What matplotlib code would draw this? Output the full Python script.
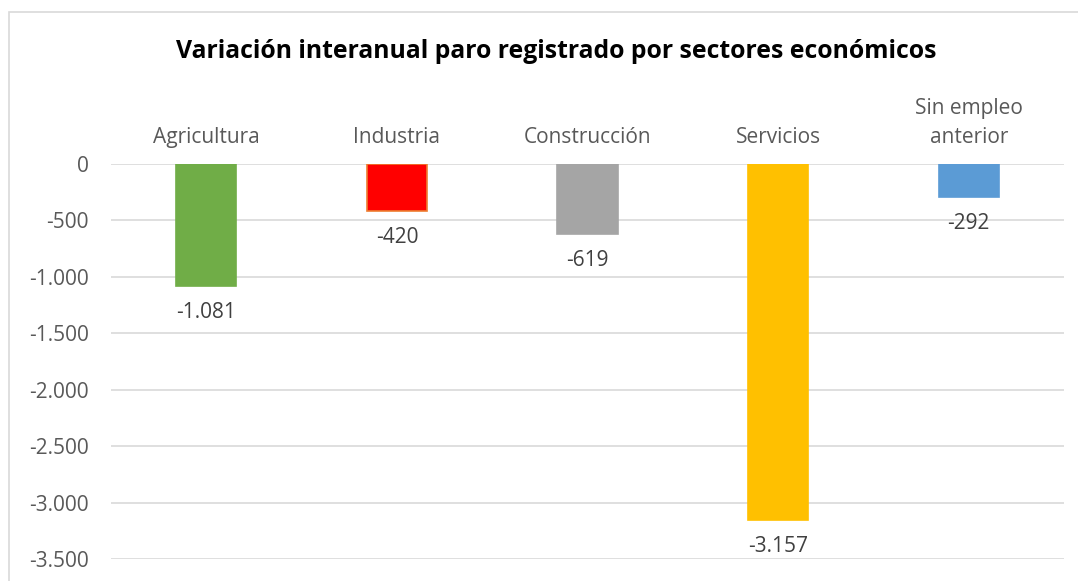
import matplotlib.pyplot as plt
from matplotlib.patches import Rectangle
from matplotlib.ticker import FuncFormatter

# Data
sectores = ['Agricultura', 'Industria', 'Construcción', 'Servicios', 'Sin empleo\nanterior']
variacion = [-1081, -420, -619, -3157, -292]
colores = ['#70AD47', '#FF0000', '#A5A5A5', '#FFC000', '#5B9BD5']
bordes = ['#70AD47', '#ED7D31', '#A5A5A5', '#FFC000', '#5B9BD5']
y_ticks = [0, -500, -1000, -1500, -2000, -2500, -3000, -3500]


def miles(v, pos=None):
    # Spanish style thousands separator
    return '{:,.0f}'.format(v).replace(',', '.')


def plot():
    plt.rcParams['font.family'] = ['Open Sans', 'DejaVu Sans']
    fig = plt.figure(figsize=(10.78, 5.81), dpi=100)

    # outer chart border (right and bottom edges fall outside the image)
    fig.patches.append(Rectangle((9 / 1078, 0 - 0.01), 1.0, 1 - 12 / 581 + 0.01,
                                 transform=fig.transFigure, fill=False,
                                 edgecolor='#D9D9D9', linewidth=1.2))

    ax = fig.add_axes([111 / 1078, 1 - 559 / 581, (1064 - 111) / 1078, (559 - 164) / 581])
    x = range(len(sectores))
    bars = ax.bar(x, variacion, width=0.315, color=colores, edgecolor=bordes, linewidth=1.2, zorder=3)

    ax.set_xlim(-0.5, len(sectores) - 0.5)
    ax.set_ylim(-3500, 0)
    ax.set_yticks(y_ticks)
    ax.yaxis.set_major_formatter(FuncFormatter(miles))
    ax.grid(axis='y', color='#D9D9D9', linewidth=1.2, zorder=0)

    ax.xaxis.tick_top()
    ax.set_xticks(list(x))
    ax.set_xticklabels(sectores, fontsize=15, color='#595959', linespacing=1.5)
    ax.tick_params(axis='x', length=0, pad=11.5)
    ax.tick_params(axis='y', length=0, pad=16, labelsize=15, labelcolor='#595959')
    for s in ax.spines.values():
        s.set_visible(False)

    for b, v in zip(bars, variacion):
        ax.annotate(miles(v), (b.get_x() + b.get_width() / 2, v), xytext=(0, -19),
                    textcoords='offset points', ha='center', va='center',
                    fontsize=15, color='#404040')

    fig.text(556 / 1078, 1 - 52 / 581, 'Variación interanual paro registrado por sectores económicos',
             ha='center', va='center', fontsize=17.8, fontweight='bold', color='black')

    fig.savefig('out.png', dpi=100)


if __name__ == '__main__':
    plot()
